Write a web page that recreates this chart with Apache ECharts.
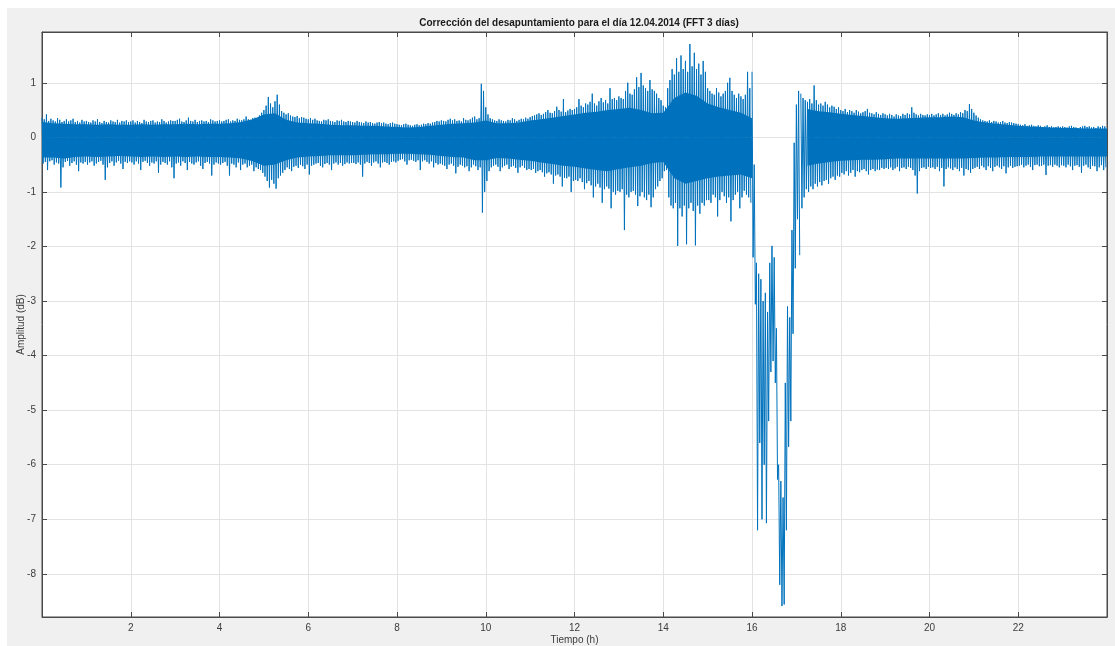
<!DOCTYPE html>
<html>
<head>
<meta charset="utf-8">
<script src="https://cdn.jsdelivr.net/npm/echarts@6/dist/echarts.min.js"></script>
<style>
  html, body { margin: 0; padding: 0; background: #ffffff; }
  #wrap { position: relative; width: 1115px; height: 646px; overflow: hidden; }
  #figbg { position: absolute; left: 7px; top: 8px; right: 0; bottom: 0; background: #f0f0f0; }
  #chart { position: absolute; left: 0; top: 0; width: 1115px; height: 646px; }
</style>
</head>
<body>
<div id="wrap"><div id="figbg"></div><div id="chart"></div></div>
<script>
// ---- chart text ----
const titleText = 'Corrección del desapuntamiento para el día 12.04.2014 (FFT 3 días)';
const xName = 'Tiempo (h)';
const yName = 'Amplitud (dB)';

// ---- tick labels ----
const xTicks = [2, 4, 6, 8, 10, 12, 14, 16, 18, 20, 22];
const yTicks = [-8, -7, -6, -5, -4, -3, -2, -1, 0, 1];
const xRange = [0, 24];
const yRange = [-8.79, 1.93];

// ---- dense core of the noise band, one value every 0.25 h from 0 h to 24 h ----
const coreStart = 0;
const coreStep = 0.25;
const coreUpper = [
  0.28,0.26,0.25,0.24, 0.24,0.23,0.24,0.23, 0.23,0.24,0.23,0.24, 0.24,0.25,0.24,0.25,
  0.25,0.26,0.28,0.33, 0.42,0.44,0.32,0.27, 0.26,0.25,0.23,0.22, 0.22,0.21,0.21,0.20,
  0.19,0.18,0.19,0.21, 0.23,0.25,0.26,0.27, 0.31,0.26,0.26,0.27, 0.31,0.33,0.36,0.39,
  0.42,0.45,0.47,0.50, 0.52,0.54,0.50,0.44, 0.45,0.72,0.82,0.76, 0.62,0.55,0.50,0.45,
  0.35,null,null,null, null,0.52,0.48,0.46, 0.43,0.41,0.39,0.37, 0.35,0.34,0.35,0.36,
  0.37,0.37,0.38,0.37, 0.31,0.27,0.25,0.23, 0.21,0.20,0.19,0.18, 0.17,0.17,0.16,0.16,
  0.16
];
const coreLower = [
  -0.37,-0.37,-0.39,-0.36, -0.35,-0.36,-0.35,-0.34, -0.35,-0.36,-0.35,-0.36, -0.35,-0.36,-0.35,-0.36,
  -0.36,-0.37,-0.39,-0.44, -0.52,-0.50,-0.42,-0.37, -0.35,-0.34,-0.33,-0.33, -0.33,-0.32,-0.31,-0.31,
  -0.30,-0.30,-0.31,-0.32, -0.34,-0.36,-0.37,-0.42, -0.42,-0.38,-0.39,-0.41, -0.43,-0.46,-0.49,-0.52,
  -0.54,-0.57,-0.60,-0.62, -0.58,-0.55,-0.52,-0.47, -0.45,-0.75,-0.85,-0.80, -0.75,-0.72,-0.70,-0.68,
  -0.75,null,null,null, null,-0.52,-0.48,-0.45, -0.43,-0.42,-0.41,-0.41, -0.40,-0.39,-0.39,-0.39,
  -0.39,-0.39,-0.39,-0.39, -0.38,-0.37,-0.37,-0.36, -0.36,-0.36,-0.35,-0.35, -0.35,-0.35,-0.35,-0.35,
  -0.35
];

// ---- signal extremes, one slot every 0.05 h from 0 h (max then min of each slot); one row per hour ----
const slotStart = 0;
const slotStep = 0.05;
const upper = [
  0.36,0.33,0.42,0.30,0.34,0.31,0.29,0.35,0.32,0.28,0.30,0.33,0.29,0.31,0.34,0.28,0.30,0.27,0.32,0.29,
  0.30,0.28,0.27,0.31,0.29,0.33,0.28,0.26,0.30,0.28,0.27,0.31,0.29,0.28,0.32,0.27,0.30,0.29,0.31,0.28,
  0.29,0.31,0.27,0.30,0.28,0.26,0.32,0.29,0.28,0.30,0.31,0.27,0.29,0.28,0.33,0.30,0.27,0.29,0.31,0.30,
  0.30,0.32,0.34,0.29,0.28,0.31,0.36,0.30,0.29,0.32,0.28,0.30,0.31,0.29,0.30,0.28,0.33,0.31,0.29,0.30,
  0.31,0.29,0.30,0.32,0.33,0.29,0.31,0.30,0.34,0.32,0.31,0.33,0.38,0.33,0.32,0.35,0.36,0.34,0.40,0.45,
  0.50,0.58,0.74,0.62,0.55,0.66,0.78,0.60,0.48,0.45,0.42,0.44,0.40,0.38,0.37,0.39,0.35,0.37,0.36,0.34,
  0.33,0.35,0.32,0.34,0.31,0.30,0.29,0.32,0.31,0.33,0.30,0.29,0.28,0.31,0.30,0.32,0.29,0.28,0.30,0.29,
  0.28,0.27,0.30,0.28,0.27,0.26,0.29,0.27,0.28,0.26,0.25,0.27,0.28,0.26,0.27,0.25,0.24,0.26,0.27,0.25,
  0.24,0.23,0.22,0.24,0.25,0.23,0.22,0.21,0.23,0.24,0.22,0.23,0.25,0.24,0.26,0.25,0.27,0.28,0.30,0.29,
  0.31,0.30,0.29,0.32,0.34,0.31,0.33,0.30,0.31,0.29,0.35,0.32,0.31,0.33,0.36,0.38,0.33,0.35,0.98,0.85,
  0.55,0.42,0.35,0.33,0.31,0.30,0.33,0.31,0.30,0.29,0.32,0.31,0.35,0.33,0.30,0.32,0.34,0.33,0.36,0.34,
  0.37,0.39,0.40,0.42,0.44,0.41,0.43,0.46,0.50,0.45,0.44,0.48,0.56,0.50,0.47,0.70,0.46,0.49,0.52,0.50,
  0.52,0.55,0.70,0.58,0.55,0.62,0.60,0.65,0.80,0.62,0.58,0.66,0.72,0.64,0.68,0.62,0.90,0.70,0.72,0.68,
  0.75,0.72,0.70,0.85,1.00,0.80,0.78,0.88,1.10,0.92,1.18,0.95,0.90,0.85,1.05,0.88,0.85,0.80,0.72,0.68,
  0.58,0.55,0.90,1.05,1.25,1.15,1.45,1.20,1.50,1.25,1.40,1.20,1.71,1.30,1.55,1.25,1.35,1.15,1.40,1.20,
  0.90,0.85,0.80,0.78,0.90,0.82,0.75,0.80,0.85,1.00,1.09,0.85,0.78,0.72,0.80,0.75,0.70,0.78,1.20,0.90,
  null,null,null,null,null,null,null,null,null,null,null,null,null,null,null,null,null,null,null,null,
  null,null,0.80,0.72,0.68,0.65,0.70,0.62,0.95,0.68,0.60,0.62,0.58,0.65,0.60,0.55,0.58,0.56,0.52,0.55,
  0.50,0.48,0.52,0.46,0.50,0.48,0.45,0.50,0.47,0.44,0.46,0.48,0.52,0.45,0.44,0.42,0.46,0.43,0.41,0.44,
  0.42,0.40,0.43,0.41,0.38,0.42,0.40,0.39,0.43,0.41,0.44,0.42,0.55,0.45,0.42,0.40,0.43,0.41,0.40,0.42,
  0.41,0.43,0.40,0.42,0.44,0.41,0.43,0.40,0.42,0.45,0.43,0.41,0.44,0.42,0.46,0.44,0.50,0.48,0.61,0.52,
  0.45,0.40,0.36,0.33,0.31,0.30,0.29,0.31,0.28,0.30,0.29,0.27,0.28,0.30,0.27,0.26,0.28,0.27,0.26,0.25,
  0.24,0.23,0.22,0.24,0.21,0.22,0.23,0.21,0.20,0.22,0.21,0.19,0.20,0.22,0.19,0.20,0.18,0.19,0.20,0.19,
  0.20,0.19,0.18,0.20,0.21,0.19,0.18,0.17,0.19,0.20,0.21,0.19,0.20,0.18,0.19,0.17,0.20,0.19,0.21,0.20
];
const lower = [
  -0.48,-0.45,-0.60,-0.44,-0.42,-0.50,-0.46,-0.48,-0.92,-0.55,-0.45,-0.43,-0.52,-0.47,-0.44,-0.50,-0.62,-0.46,-0.48,-0.45,
  -0.50,-0.46,-0.44,-0.52,-0.48,-0.45,-0.43,-0.50,-0.78,-0.55,-0.47,-0.44,-0.52,-0.46,-0.43,-0.48,-0.58,-0.45,-0.47,-0.44,
  -0.46,-0.50,-0.44,-0.48,-0.60,-0.45,-0.43,-0.47,-0.52,-0.46,-0.48,-0.44,-0.65,-0.50,-0.45,-0.47,-0.50,-0.44,-0.55,-0.75,
  -0.48,-0.46,-0.52,-0.44,-0.47,-0.60,-0.45,-0.48,-0.50,-0.46,-0.44,-0.52,-0.58,-0.47,-0.45,-0.48,-0.70,-0.50,-0.46,-0.48,
  -0.50,-0.47,-0.45,-0.52,-0.70,-0.48,-0.50,-0.55,-0.46,-0.60,-0.50,-0.48,-0.55,-0.52,-0.50,-0.62,-0.55,-0.58,-0.60,-0.65,
  -0.72,-0.80,-0.92,-0.78,-0.85,-0.94,-0.75,-0.70,-0.65,-0.60,-0.55,-0.58,-0.62,-0.54,-0.52,-0.56,-0.50,-0.53,-0.58,-0.50,
  -0.68,-0.52,-0.50,-0.48,-0.47,-0.52,-0.55,-0.49,-0.47,-0.50,-0.60,-0.48,-0.46,-0.50,-0.47,-0.52,-0.49,-0.46,-0.48,-0.47,
  -0.47,-0.49,-0.46,-0.50,-0.72,-0.48,-0.45,-0.47,-0.52,-0.46,-0.44,-0.48,-0.55,-0.46,-0.45,-0.47,-0.50,-0.45,-0.44,-0.46,
  -0.43,-0.41,-0.40,-0.44,-0.50,-0.42,-0.41,-0.43,-0.45,-0.42,-0.60,-0.44,-0.42,-0.45,-0.48,-0.44,-0.55,-0.47,-0.50,-0.48,
  -0.50,-0.52,-0.58,-0.50,-0.48,-0.52,-0.66,-0.54,-0.50,-0.52,-0.55,-0.53,-0.62,-0.55,-0.50,-0.53,-0.60,-0.55,-1.38,-1.00,
  -0.80,-0.62,-0.55,-0.52,-0.50,-0.54,-0.62,-0.55,-0.52,-0.50,-0.58,-0.54,-0.52,-0.56,-0.65,-0.55,-0.52,-0.56,-0.60,-0.58,
  -0.60,-0.58,-0.65,-0.62,-0.60,-0.64,-0.72,-0.66,-0.64,-0.68,-0.85,-0.70,-0.68,-0.72,-0.90,-0.74,-0.75,-0.72,-1.00,-0.80,
  -0.78,-0.80,-0.75,-0.82,-0.95,-0.84,-0.80,-0.88,-1.10,-0.90,-0.85,-0.92,-1.20,-0.95,-0.90,-0.94,-1.30,-1.00,-1.05,-0.98,
  -1.00,-0.95,-1.70,-1.05,-1.10,-1.00,-0.98,-1.05,-1.26,-1.08,-1.00,-1.10,-1.15,-1.05,-1.28,-1.10,-0.95,-0.90,-0.80,-0.75,
  -0.62,-0.60,-1.10,-1.25,-1.30,-1.20,-1.99,-1.30,-1.45,-1.25,-1.96,-1.30,-1.20,-1.35,-1.98,-1.25,-1.40,-1.20,-1.25,-1.15,
  -1.15,-1.20,-1.05,-1.10,-1.45,-1.15,-1.00,-1.08,-1.20,-1.10,-1.54,-1.15,-1.05,-1.00,-1.30,-1.10,-0.98,-1.05,-1.10,-1.20,
  null,null,null,null,null,null,null,null,null,null,null,null,null,null,null,null,null,null,null,null,
  null,null,-1.30,-1.10,-0.95,-1.00,-0.90,-0.95,-0.85,-0.90,-0.82,-0.88,-0.80,-0.78,-0.85,-0.75,-0.72,-0.78,-0.70,-0.72,
  -0.65,-0.68,-0.62,-0.70,-0.65,-0.60,-0.72,-0.62,-0.64,-0.60,-0.58,-0.62,-0.68,-0.60,-0.58,-0.62,-0.59,-0.60,-0.56,-0.58,
  -0.56,-0.58,-0.55,-0.60,-0.57,-0.54,-0.62,-0.56,-0.55,-0.58,-0.54,-0.56,-0.60,-0.70,-1.03,-0.62,-0.56,-0.55,-0.58,-0.54,
  -0.56,-0.55,-0.58,-0.54,-0.62,-0.56,-0.90,-0.58,-0.55,-0.57,-0.60,-0.55,-0.58,-0.62,-0.56,-0.70,-0.58,-0.60,-0.65,-0.58,
  -0.56,-0.54,-0.58,-0.52,-0.55,-0.60,-0.53,-0.56,-0.62,-0.54,-0.52,-0.55,-0.58,-0.53,-0.66,-0.55,-0.52,-0.56,-0.54,-0.53,
  -0.52,-0.50,-0.55,-0.52,-0.50,-0.54,-0.60,-0.51,-0.50,-0.53,-0.52,-0.50,-0.69,-0.52,-0.51,-0.54,-0.50,-0.52,-0.55,-0.51,
  -0.52,-0.55,-0.50,-0.53,-0.60,-0.52,-0.51,-0.54,-0.65,-0.52,-0.50,-0.55,-0.58,-0.52,-0.53,-0.62,-0.55,-0.51,-0.60,-0.55
];

// ---- pointing-loss dip (16.0 h – 17.05 h), one slot every 0.05 h ----
const dipStart = 16.0;
const dipStep = 0.05;
const dipUpper = [1.20,-0.50,-2.30,-2.50,-2.60,-3.00,-2.85,-3.20,-2.30,-1.99,-2.20,-3.50,
                  -6.00,-6.30,-6.60,-4.50,-3.10,-3.30,-1.70,-0.10,0.60,0.85];
const dipLower = [-2.20,-3.06,-7.20,-5.60,-7.00,-6.00,-7.07,-5.20,-4.30,-4.10,-4.50,-6.27,
                  -8.20,-8.59,-8.56,-7.20,-5.67,-5.20,-3.60,-2.40,-1.50,-2.16];

// ---- build traces ----
function zigzag(start, step, hi, lo) {
  const out = [];
  for (let i = 0; i < hi.length; i++) {
    const t = start + i * step;
    if (hi[i] == null || lo[i] == null) { out.push([t, null]); continue; }
    out.push([t, hi[i]]);
    out.push([t + step / 2, lo[i]]);
  }
  return out;
}
function pairs(start, step, vals) {
  return vals.map((v, i) => [start + i * step, v]);
}
const mainData = zigzag(slotStart, slotStep, upper, lower);
const dipData = zigzag(dipStart, dipStep, dipUpper, dipLower);
const coreUpData = pairs(coreStart, coreStep, coreUpper);
const coreLoData = pairs(coreStart, coreStep, coreLower);

const BLUE = '#0072BD';
const axisCol = '#4a4a4a';
const labelCol = '#3c3c3c';
const font = 'Liberation Sans, Arial, Helvetica, sans-serif';

const lineBase = { type: 'line', xAxisIndex: 0, yAxisIndex: 0, showSymbol: false, symbol: 'none', connectNulls: false, silent: true, sampling: false };

const chart = echarts.init(document.getElementById('chart'), null, { renderer: 'canvas' });
chart.setOption({
  backgroundColor: 'transparent',
  animation: false,
  title: {
    text: titleText, left: 574, top: 13, textAlign: 'center',
    textStyle: { fontFamily: font, fontSize: 10, fontWeight: 'bold', color: '#1a1a1a' }
  },
  grid: { left: 42, right: 8, top: 32, bottom: 29, outerBoundsMode: 'none', containLabel: false,
          show: true, backgroundColor: '#ffffff', borderColor: axisCol, borderWidth: 1 },
  xAxis: [{
    type: 'value', min: xRange[0], max: xRange[1], position: 'bottom',
    name: xName, nameLocation: 'middle', nameGap: 18, nameMoveOverlap: false,
    nameTextStyle: { fontFamily: font, fontSize: 10, color: labelCol },
    axisLine: { show: true, onZero: false, lineStyle: { color: axisCol } },
    axisTick: { show: true, inside: true, length: 5, customValues: xTicks, lineStyle: { color: axisCol } },
    axisLabel: { customValues: xTicks, fontFamily: font, fontSize: 10, color: labelCol, margin: 6 },
    splitLine: { show: true, lineStyle: { color: '#e3e3e3', width: 1 } }
  }, {
    type: 'value', min: xRange[0], max: xRange[1], position: 'top',
    axisLine: { show: true, onZero: false, lineStyle: { color: axisCol } },
    axisTick: { show: true, inside: true, length: 5, customValues: xTicks, lineStyle: { color: axisCol } },
    axisLabel: { show: false }, splitLine: { show: false }
  }],
  yAxis: [{
    type: 'value', min: yRange[0], max: yRange[1], position: 'left',
    name: yName, nameLocation: 'middle', nameGap: 16, nameRotate: 90, nameMoveOverlap: false,
    nameTextStyle: { fontFamily: font, fontSize: 10, color: labelCol },
    axisLine: { show: true, onZero: false, lineStyle: { color: axisCol } },
    axisTick: { show: true, inside: true, length: 5, customValues: yTicks, lineStyle: { color: axisCol } },
    axisLabel: { customValues: yTicks, fontFamily: font, fontSize: 10, color: labelCol, margin: 6 },
    splitLine: { show: true, lineStyle: { color: '#e3e3e3', width: 1 } }
  }, {
    type: 'value', min: yRange[0], max: yRange[1], position: 'right',
    axisLine: { show: true, onZero: false, lineStyle: { color: axisCol } },
    axisTick: { show: true, inside: true, length: 5, customValues: yTicks, lineStyle: { color: axisCol } },
    axisLabel: { show: false }, splitLine: { show: false }
  }],
  series: [
    Object.assign({}, lineBase, { data: coreUpData, lineStyle: { width: 0 }, areaStyle: { color: BLUE, opacity: 1, origin: 0 } }),
    Object.assign({}, lineBase, { data: coreLoData, lineStyle: { width: 0 }, areaStyle: { color: BLUE, opacity: 1, origin: 0 } }),
    Object.assign({}, lineBase, { data: mainData, lineStyle: { color: BLUE, width: 1 } }),
    Object.assign({}, lineBase, { data: dipData, lineStyle: { color: BLUE, width: 1 } })
  ]
});
</script>
</body>
</html>
